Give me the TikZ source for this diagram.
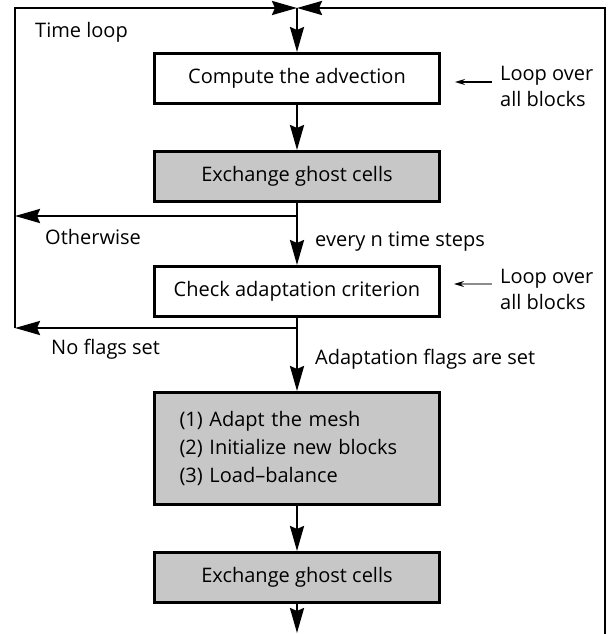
\documentclass[tikz,border=0pt]{standalone}
\usepackage{fontspec}
\setmainfont{Open Sans}
\usetikzlibrary{positioning,arrows.meta}

\tikzset{
  block/.style={draw, line width=3pt, minimum width=285pt, minimum height=50pt, inner sep=0pt},
  shaded/.style={block, fill=black!22},
  flow/.style={line width=2.6pt, -{Stealth[length=25pt,width=14pt,inset=3pt]}},
  note/.style={line width=1.2pt, -{Stealth[length=10pt,width=6pt,color=black]}},
  lbl/.style={anchor=west, inner sep=0pt},
}

\begin{document}
\begin{tikzpicture}[
    x=1pt, y=1pt,
    font=\fontsize{20}{28}\selectfont
]
\useasboundingbox (0,0) rectangle (610,-634);

% the steps of one time step
\node[block] (adv) at (297,-78.5) {Compute the advection};
\node[shaded, below=45pt of adv] (ghost1) {Exchange ghost cells};
\node[block, below=62pt of ghost1] (check) {Check adaptation criterion};
\node[shaded, below=73pt of check, minimum height=112pt, text width=235pt, align=left] (adapt)
    {(1) Adapt the mesh\\(2) Initialize new blocks\\(3) Load--balance};
\node[shaded, below=45pt of adapt] (ghost2) {Exchange ghost cells};

% loop corners and branch points
\coordinate (meet) at (297,-8);
\coordinate (tl) at (15,-8);
\coordinate (tr) at (605,-8);
\coordinate (br) at (605,-634);
\coordinate (split1) at (297,-216);
\coordinate (split2) at (297,-328);
\coordinate (back1) at (15,-216);
\coordinate (back2) at (15,-328);
\coordinate (out) at (297,-633);

\draw[flow] (back2) -- (tl) -- (meet);
\draw[flow] (br) -- (tr) -- (meet);
\draw[flow] (meet) -- (adv);
\draw[flow] (adv) -- (ghost1);
\draw[flow] (ghost1) -- (check);
\draw[flow] (split1) -- (back1);
\draw[flow] (check) -- (adapt);
\draw[flow] (split2) -- (back2);
\draw[flow] (adapt) -- (ghost2);
\draw[flow] (ghost2) -- (out);

% labels
\node[lbl] (timeloop) at (35,-32) {Time loop};
\node[lbl] (otherwise) at (45,-237) {Otherwise};
\node[lbl] (noflags) at (51,-349) {No flags set};
\node[lbl] (everyn) at (315,-242) {every n time steps};
\node[lbl] (flagsset) at (315,-359) {Adaptation flags are set};
\node[lbl, align=left] (loop1) at (500,-86) {Loop over\\[-2pt]all blocks};
\node[lbl, align=left] (loop2) at (500,-289) {Loop over\\[-2pt]all blocks};

\coordinate (hit1) at (455,-82);
\coordinate (hit2) at (454,-284);
\draw[note] (hit1 -| loop1.west) ++(-8,0) -- (hit1);
\draw[note, draw=black!45] (hit2 -| loop2.west) ++(-8,0) -- (hit2);

\end{tikzpicture}
\end{document}
